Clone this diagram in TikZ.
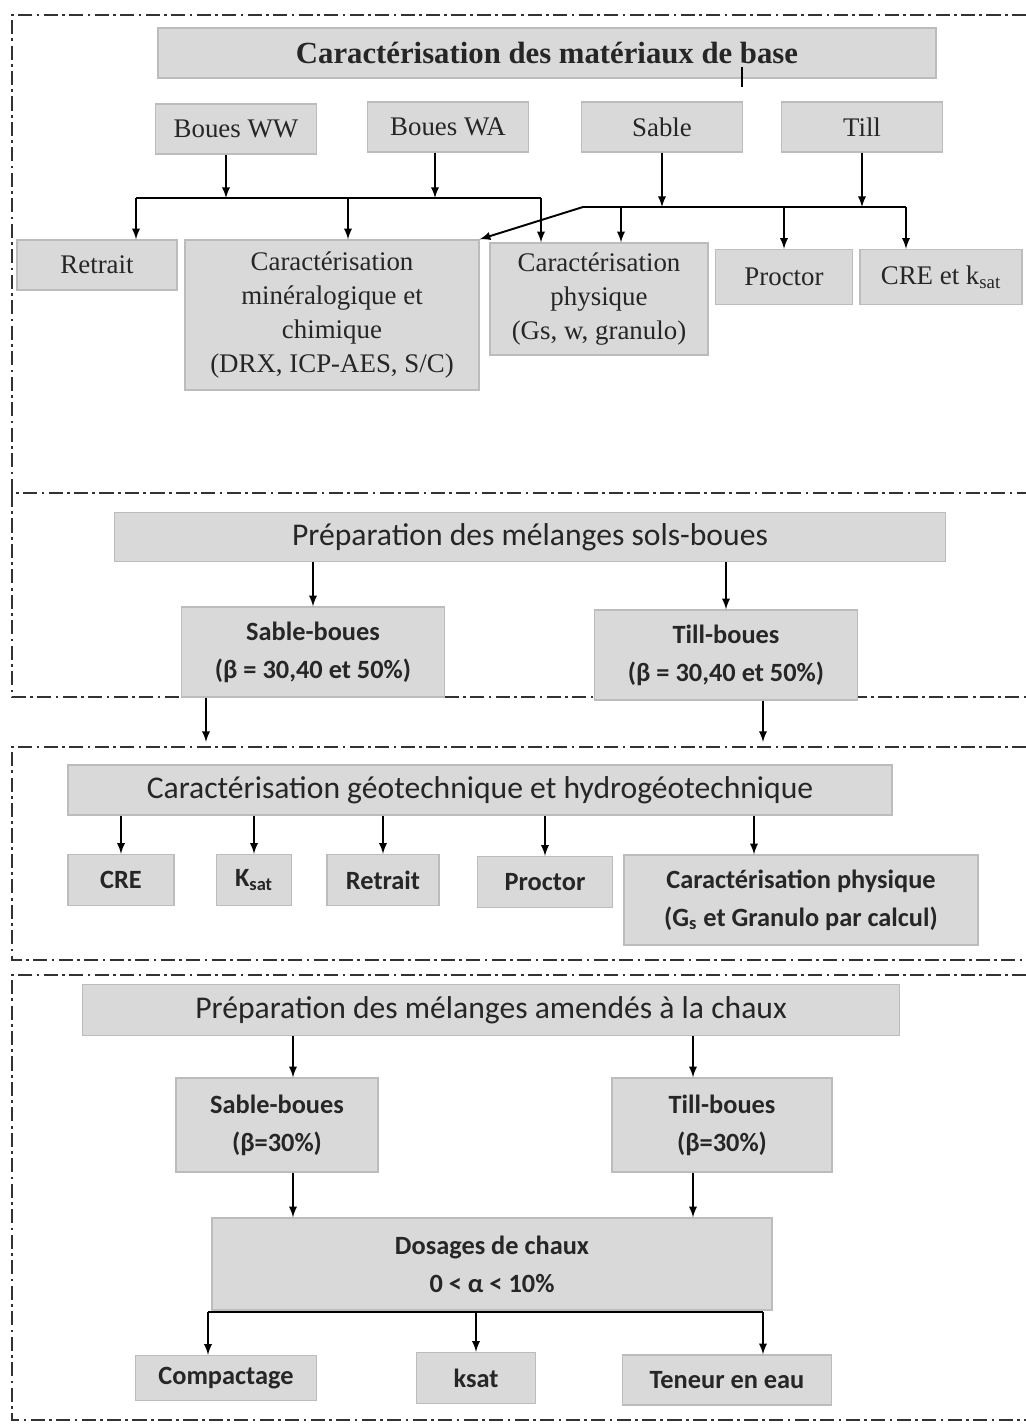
\documentclass[tikz,border=0pt]{standalone}
\usepackage{fontspec}
\setmainfont{Liberation Serif}
\newfontfamily\calib{Carlito}
\usetikzlibrary{arrows,positioning,calc}
\definecolor{boxfill}{RGB}{217,217,217}
\definecolor{boxline}{RGB}{188,188,188}
\definecolor{txt}{RGB}{38,38,38}
\definecolor{frameline}{RGB}{50,50,50}

\begin{document}
\begin{tikzpicture}[x=0.02cm, y=-0.02cm,
  box/.style={draw=boxline, fill=boxfill, line width=0.8pt, inner sep=0pt, align=center, text=txt},
  serif/.style={font=\fontsize{15.3}{19.3}\selectfont},
  serifbold/.style={font=\bfseries\fontsize{17.5}{20}\selectfont},
  sans/.style={font=\calib\bfseries\fontsize{15}{21.5}\selectfont},
  titre/.style={font=\calib\fontsize{18}{20}\selectfont},
  cadre/.style={frameline, line width=1pt, dash pattern=on 8pt off 2.5pt on 1.5pt off 2.5pt},
  fleche/.style={-latex, line width=1.1pt},
  trait/.style={line width=1.1pt}]
  \useasboundingbox (0,0) rectangle (1026,1427);

  % cadres
  \draw [cadre] (1026,15) -- (12,15) -- (12,493) -- (1026,493);
  \draw [cadre] (12,493) -- (12,697) -- (1026,697);
  \draw [cadre] (1026,747) -- (12,747) -- (12,960) -- (1026,960);
  \draw [cadre] (1026,975) -- (12,975) -- (12,1420) -- (1026,1420);

  % materiaux de base
  \node (t1) [box, serifbold, minimum width=15.56cm, minimum height=1cm] at (547,53) {Caractérisation des matériaux de base};
  \node (ww) [box, serif, minimum width=3.22cm, minimum height=1cm] at (236,129) {Boues WW};
  \node (wa) [box, serif, minimum width=3.22cm, minimum height=1cm] at (448,127) {Boues WA};
  \node (sable) [box, serif, minimum width=3.22cm, minimum height=1cm] at (662,127) {Sable};
  \node (till) [box, serif, minimum width=3.22cm, minimum height=1cm] at (862,127) {Till};
  \node (retrait) [box, serif, minimum width=3.2cm, minimum height=1cm] at (97,265) {Retrait};
  \node (mineral) [box, serif, minimum width=5.88cm, minimum height=3cm] at (332,315) {Caractérisation\\minéralogique et\\chimique\\(DRX, ICP-AES, S/C)};
  \node (physique) [box, serif, minimum width=4.36cm, minimum height=2.24cm] at (599,299) {Caractérisation\\physique\\(Gs, w, granulo)};
  \node (proctor) [box, serif, minimum width=2.74cm, minimum height=1.1cm] at (784,277) {Proctor};
  \node (cre) [box, serif, minimum width=3.24cm, minimum height=1.1cm] at (941,277) {CRE et k\textsubscript{sat}};

  \coordinate (b1l) at (136,198);
  \coordinate (b1w) at (226,198);
  \coordinate (b1a) at (435,198);
  \coordinate (b1m) at (348,198);
  \coordinate (b1r) at (541,198);
  \coordinate (b2l) at (583,207);
  \coordinate (b2p) at (621,207);
  \coordinate (b2r) at (906,207);
  \coordinate (tick) at (742,87);

  \draw [trait] (b1l) -- (b1r);
  \draw [trait] (b2l) -- (b2r);
  \draw [fleche] (ww.south -| b1w) -- (b1w);
  \draw [fleche] (wa.south -| b1a) -- (b1a);
  \draw [fleche] (b1l) -- (b1l |- retrait.north);
  \draw [fleche] (b1m) -- (b1m |- mineral.north);
  \draw [fleche] (b1r) -- (b1r |- physique.north);
  \draw [fleche] (sable.south) -- (sable.south |- b2l);
  \draw [fleche] (till.south) -- (till.south |- b2l);
  \draw [fleche] (b2l) -- (mineral.north east);
  \draw [fleche] (b2p) -- (b2p |- physique.north);
  \draw [fleche] (proctor.north |- b2r) -- (proctor.north);
  \draw [fleche] (b2r) -- (b2r |- cre.north);
  \draw [line width=0.8pt] (tick) -- ++(0,-20);

  % melanges sols-boues
  \node (t2) [box, titre, minimum width=16.62cm, minimum height=0.98cm] at (530,537) {Préparation des mélanges sols-boues};
  \node (sb) [box, sans, minimum width=5.26cm, minimum height=1.8cm] at (313,652) {Sable-boues\\(β = 30,40 et 50\%)};
  \node (tb) [box, sans, minimum width=5.26cm, minimum height=1.8cm] at (726,655) {Till-boues\\(β = 30,40 et 50\%)};

  \coordinate (sbout) at (206,742);
  \coordinate (tbout) at (763,742);
  \draw [fleche] (sb.north |- t2.south) -- (sb.north);
  \draw [fleche] (tb.north |- t2.south) -- (tb.north);
  \draw [fleche] (sb.south -| sbout) -- (sbout);
  \draw [fleche] (tb.south -| tbout) -- (tbout);

  % caracterisation geotechnique
  \node (t3) [box, titre, minimum width=16.48cm, minimum height=1cm] at (480,790) {Caractérisation géotechnique et hydrogéotechnique};
  \node (cre2) [box, sans, minimum width=2.12cm, minimum height=1.02cm] at (121,880) {CRE};
  \node (ksat) [box, sans, minimum width=1.5cm, minimum height=1.02cm] at (254,880) {K\textsubscript{sat}};
  \node (retrait2) [box, sans, minimum width=2.24cm, minimum height=1.02cm] at (383,880) {Retrait};
  \node (proctor2) [box, sans, minimum width=2.7cm, minimum height=1.02cm] at (545,882) {Proctor};
  \node (phys2) [box, sans, minimum width=7.08cm, minimum height=1.8cm] at (801,900) {Caractérisation physique\\(G\textsubscript{s} et Granulo par calcul)};

  \coordinate (c3p) at (754,855);
  \draw [fleche] (cre2.north |- t3.south) -- (cre2.north);
  \draw [fleche] (ksat.north |- t3.south) -- (ksat.north);
  \draw [fleche] (retrait2.north |- t3.south) -- (retrait2.north);
  \draw [fleche] (proctor2.north |- t3.south) -- (proctor2.north);
  \draw [fleche] (c3p |- t3.south) -- (c3p |- phys2.north);

  % melanges a la chaux
  \node (t4) [box, titre, minimum width=16.34cm, minimum height=1.02cm] at (491,1010) {Préparation des mélanges amendés à la chaux};
  \node (sb2) [box, sans, minimum width=4.04cm, minimum height=1.88cm] at (277,1125) {Sable-boues\\(β=30\%)};
  \node (tb2) [box, sans, minimum width=4.4cm, minimum height=1.88cm] at (722,1125) {Till-boues\\(β=30\%)};
  \node (dos) [box, sans, minimum width=11.2cm, minimum height=1.84cm] at (492,1264) {Dosages de chaux\\0 < α < 10\%};
  \node (comp) [box, sans, minimum width=3.62cm, minimum height=0.9cm] at (226,1378) {Compactage};
  \node (ksat2) [box, sans, minimum width=2.38cm, minimum height=1.02cm] at (476,1378) {ksat};
  \node (ten) [box, sans, minimum width=4.18cm, minimum height=1cm] at (727,1380) {Teneur en eau};

  \coordinate (c4s) at (293,1125);
  \coordinate (c4t) at (693,1125);
  \coordinate (b4l) at (208,1312);
  \coordinate (b4m) at (476,1312);
  \coordinate (b4r) at (763,1312);
  \draw [fleche] (c4s |- t4.south) -- (c4s |- sb2.north);
  \draw [fleche] (c4t |- t4.south) -- (c4t |- tb2.north);
  \draw [fleche] (c4s |- sb2.south) -- (c4s |- dos.north);
  \draw [fleche] (c4t |- tb2.south) -- (c4t |- dos.north);
  \draw [trait] (b4l) -- (b4r);
  \draw [fleche] (b4l) -- (b4l |- comp.north);
  \draw [fleche] (b4m) -- (b4m |- ksat2.north);
  \draw [fleche] (b4r) -- (b4r |- ten.north);
\end{tikzpicture}
\end{document}
